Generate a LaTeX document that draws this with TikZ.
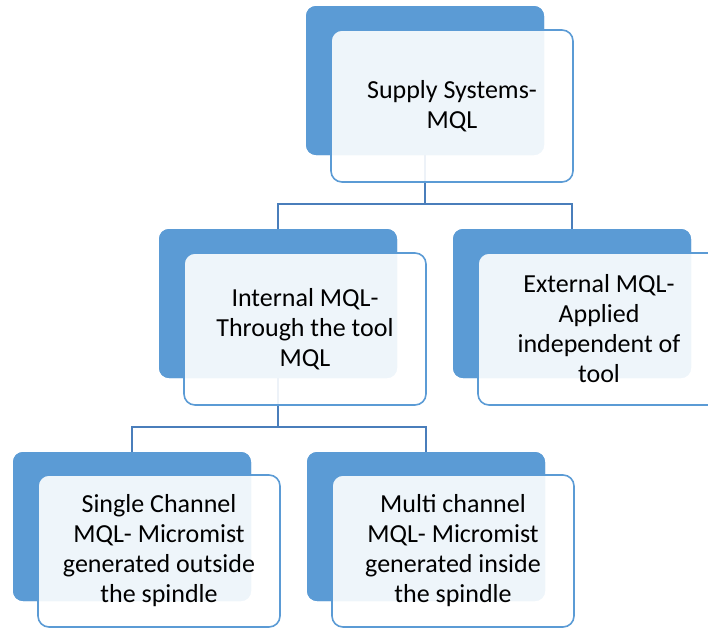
\documentclass[tikz,border=0pt]{standalone}
\usepackage{fontspec}
\setmainfont{Carlito}
\definecolor{darkbox}{HTML}{5B9BD5}
\definecolor{conncol}{HTML}{4A7EBB}
\begin{document}
\begin{tikzpicture}[x=1pt,y=-1pt,
  backbox/.style={rectangle, rounded corners=10pt, fill=darkbox, draw=none,
    minimum width=238pt, minimum height=149pt, inner sep=0pt},
  frontbox/.style={rectangle, rounded corners=11pt, fill=white, fill opacity=0.9,
    text opacity=1, draw=darkbox, draw opacity=1, line width=1.6pt,
    minimum width=242pt, minimum height=152pt, inner sep=0pt, align=center,
    font=\fontsize{26pt}{30pt}\selectfont, text=black},
  conn/.style={draw=conncol, line width=2pt}]
\useasboundingbox (0,0) rectangle (708,627);
\clip (0,0) rectangle (708,627);
% back boxes
\node[backbox] (topd) at (425,80.5) {};
\node[backbox] (intd) at (278,303.5) {};
\node[backbox] (extd) at (572,303.5) {};
\node[backbox] (sind) at (132,526.5) {};
\node[backbox] (muld) at (426,526.5) {};
% connectors
\coordinate (j1) at (425,204);
\coordinate (j2) at (278,427);
\draw[conn] (topd.south) -- (j1) -| (intd.north);
\draw[conn] (j1) -| (extd.north);
\draw[conn] (intd.south) -- (j2) -| (sind.north);
\draw[conn] (j2) -| (muld.north);
% redraw back boxes over connector ends
\node[backbox] at (topd) {};
\node[backbox] at (intd) {};
\node[backbox] at (extd) {};
\node[backbox] at (sind) {};
\node[backbox] at (muld) {};
% front boxes
\node[frontbox] (topf) at (452,106) {Supply Systems-\\MQL};
\node[frontbox] (intf) at (305,329) {Internal MQL-\\Through the tool\\MQL};
\node[frontbox] (extf) at (599,329) {External MQL-\\Applied\\independent of\\tool};
\node[frontbox] (sinf) at (159,551) {Single Channel\\MQL- Micromist\\generated outside\\the spindle};
\node[frontbox] (mulf) at (453,551) {Multi channel\\MQL- Micromist\\generated inside\\the spindle};
\end{tikzpicture}
\end{document}
